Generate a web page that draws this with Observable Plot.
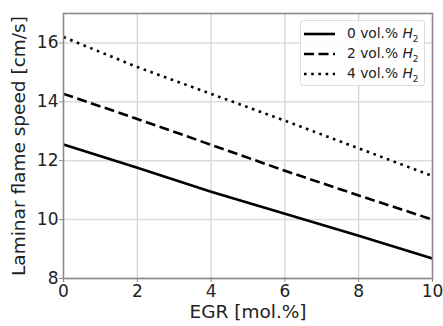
<!DOCTYPE html>
<html><head><meta charset="utf-8">
<script src="https://cdn.jsdelivr.net/npm/d3@7"></script>
<script src="https://cdn.jsdelivr.net/npm/@observablehq/plot@0.6"></script>
<style>
body{margin:0;background:#fff;font-family:"DejaVu Sans",sans-serif;}
#wrap{position:relative;width:443px;height:326px;}
#legend{position:absolute;left:300px;top:20px;width:125px;height:66px;box-sizing:border-box;border:1px solid #ddd;border-radius:3px;background:rgba(255,255,255,0.85);font-size:13.8px;color:#222;}
.row{position:absolute;left:3px;height:20px;display:flex;align-items:center;white-space:nowrap;}
.row svg{margin-right:12px;}
</style></head>
<body><div id="wrap"><div id="chart"></div><div id="legend"></div></div>
<script>
const egr = [0, 2, 4, 6, 8, 10];
const h2_0 = [12.55, 11.76, 10.95, 10.2, 9.45, 8.68];
const h2_2 = [14.27, 13.42, 12.54, 11.66, 10.82, 10.0];
const h2_4 = [16.2, 15.18, 14.27, 13.36, 12.42, 11.48];
const seriesNames = ["0 vol.% ", "2 vol.% ", "4 vol.% "];
const dashes = [null, "10,4.5", "2.6,4.6"];
const xTicks = [0, 2, 4, 6, 8, 10];
const yTicks = [8, 10, 12, 14, 16];

const seriesVals = [h2_0, h2_2, h2_4];
const lines = seriesVals.map((vals, i) =>
  Plot.line(egr.map((x, j) => ({x, y: vals[j]})), {
    x: "x", y: "y", stroke: "#000", strokeWidth: 2.6,
    strokeDasharray: dashes[i], strokeLinecap: "butt"
  }));

const chart = Plot.plot({
  width: 443, height: 326,
  marginLeft: 63, marginRight: 11, marginTop: 13, marginBottom: 48,
  style: {fontFamily: "DejaVu Sans, sans-serif", color: "#222", background: "#fff"},
  x: {domain: [0, 10]},
  y: {domain: [8, 17]},
  marks: [
    Plot.gridX(xTicks, {stroke: "#c8c8c8", strokeOpacity: 1, strokeWidth: 1}),
    Plot.gridY(yTicks, {stroke: "#dcdcdc", strokeOpacity: 1, strokeWidth: 1.5}),
    ...lines,
    Plot.frame({stroke: "#8a8a8a", strokeWidth: 1.6}),
    Plot.axisX({ticks: xTicks, tickSize: 4, tickPadding: 2, stroke: "#8a8a8a", fill: "#222", fontSize: 17, label: "EGR [mol.%]", labelAnchor: "center", labelOffset: 39, labelArrow: "none"}),
    Plot.axisY({ticks: yTicks, tickSize: 4, tickPadding: 1, stroke: "#8a8a8a", fill: "#222", fontSize: 17, label: "Laminar flame speed [cm/s]", labelAnchor: "center", labelOffset: 52, labelArrow: "none"})
  ]
});
document.getElementById("chart").appendChild(chart);
chart.querySelectorAll("g[aria-label='x-axis label'] text, g[aria-label='y-axis label'] text").forEach(t => t.style.fontSize = "18.5px");

const leg = document.getElementById("legend");
seriesNames.forEach((name, i) => {
  const row = document.createElement("div");
  row.className = "row";
  row.style.top = (3 + i * 20) + "px";
  row.innerHTML = `<svg width="31" height="6"><line x1="0" y1="3" x2="31" y2="3" stroke="#000" stroke-width="2.6" ${dashes[i] ? `stroke-dasharray="${dashes[i]}"` : ""}/></svg><span>${name}<i>H</i><sub style="font-size:9px">2</sub></span>`;
  leg.appendChild(row);
});
</script></body></html>
